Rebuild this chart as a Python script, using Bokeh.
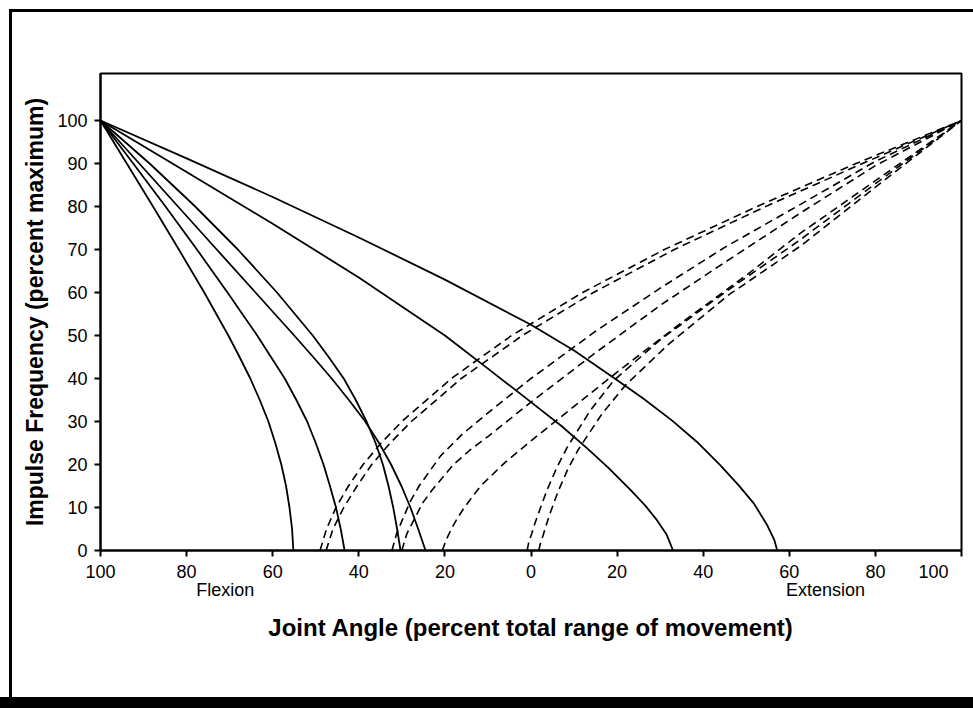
from bokeh.plotting import figure
from bokeh.models import Range1d, FixedTicker, LinearAxis, InlineStyleSheet
from bokeh.embed import file_html
from bokeh.resources import INLINE

# Joint angle: signed percent of range (-100 = full flexion, +100 = full extension)
# Solid curves (flexion receptors)
lev = [100, 90, 80, 70, 60, 50, 45, 40, 35, 30, 25, 20, 15, 10, 5, 0]
s1_x = [-100, -93.9, -87.8, -81.8, -75.9, -70.3, -67.7, -65.2, -63.0, -61.0, -59.4, -58.0, -56.9, -56.1, -55.5, -55.2]
s2_x = [-100, -92.4, -84.9, -77.6, -70.5, -63.6, -60.4, -57.2, -54.5, -52.0, -50.0, -48.2, -46.7, -45.3, -44.2, -43.3]
s3_x = [-100, -88.6, -78.0, -68.1, -59.0, -50.7, -47.0, -43.5, -40.7, -38.2, -36.1, -34.4, -33.1, -32.0, -31.1, -30.3]
s4_x = [-100, -91.0, -82.0, -73.0, -64.0, -55.0, -50.6, -46.3, -42.3, -38.5, -35.3, -32.5, -30.1, -28.0, -26.2, -24.5]
s5_x = [-100, -80, -60, -40, -20, -10, 0, 7, 13, 18, 23, 26.5, 29.3, 31.5, 33]
s5_y = [100, 88, 76, 63.5, 50, 42.3, 34.5, 29.0, 23.8, 19.2, 14.2, 10.5, 7, 3.7, 0]
s6_x = [-100, -80, -60, -40, -20, 0, 10, 19.2, 26, 32.8, 38.5, 44, 48.2, 51.8, 54.8, 56.5, 57.2]
s6_y = [100, 91.2, 82.2, 72.8, 63, 52.5, 46.5, 40.2, 35.4, 30.2, 25.3, 19.8, 15.2, 10.9, 6, 2.5, 0]

# Dashed curves (extension receptors)
a_y = [0, 5, 10, 15, 20, 25, 30, 40, 50, 60, 70, 80, 90, 100]
a1_x = [-49.0, -47.5, -45.3, -42.4, -39.0, -34.8, -30.0, -18.5, -4.5, 12.0, 31.0, 52.5, 75.5, 100]
a2_x = [-47.6, -46.0, -43.5, -40.4, -37.0, -32.7, -27.8, -16.2, -2.0, 14.5, 33.3, 54.5, 77.0, 100]
b1_x = [-32.3, -31.2, -29.5, -28, -26, -21, -16, -10, 0, 15, 30, 45, 62.6, 80, 100]
b1_y = [0, 4, 8, 11.5, 15, 22, 27, 32, 40, 51, 61, 70.5, 80.5, 90.5, 100]
b2_x = [-30, -28.8, -27, -25.2, -23, -18, -14, -10, 0, 15, 30, 45, 62.6, 80, 100]
b2_y = [0, 4, 7.5, 11, 14, 20, 23.5, 26.5, 34.5, 46, 57, 67, 78.5, 89.5, 100]
c_x = [-20.6, -19.7, -18.5, -17.1, -15.5, -11.7, -6, 0, 10, 20, 35, 50, 62.6, 80, 100]
c_y = [0, 2.5, 5, 7.5, 10, 15, 20.5, 25.5, 33.5, 41.5, 53, 64, 73.8, 86, 100]
d1_x = [-0.9, -0.5, 0.2, 0.8, 1.5, 3.7, 6, 8.4, 13.8, 19.2, 30, 45, 62.6, 80, 100]
d1_y = [0, 2, 4, 6, 8, 14, 19.3, 24, 32.6, 39.5, 49, 60, 72.3, 85.3, 100]
d2_x = [1.8, 2.2, 2.8, 4.2, 6.2, 8.5, 11, 16.5, 22, 32, 46, 62.6, 80, 100]
d2_y = [0, 1.7, 3.5, 8, 13.5, 18.8, 23.5, 31.8, 38.5, 48, 59.5, 70.8, 84.5, 100]

x_ticks = [-100, -80, -60, -40, -20, 0, 20, 40, 60, 80, 100]
x_tick_labels = ["100", "80", "60", "40", "20", "0", "20", "40", "60", "80", "100"]
y_ticks = [0, 10, 20, 30, 40, 50, 60, 70, 80, 90, 100]
side_pos = [-71, 68.4]
side_labels = ["Flexion", "Extension"]

FONT = "Liberation Sans"

p = figure(width=973, height=708, output_backend="svg", toolbar_location=None,
           x_range=Range1d(-100, 100), y_range=Range1d(0, 110.93),
           min_border_left=100, min_border_right=12, min_border_top=73, min_border_bottom=158)
p.background_fill_color = "white"
p.border_fill_color = "white"
p.grid.visible = False
p.outline_line_color = "black"
p.outline_line_width = 2

solid = dict(line_color="black", line_width=1.8)
for xs, ys in [(s1_x, lev), (s2_x, lev), (s3_x, lev), (s4_x, lev), (s5_x, s5_y), (s6_x, s6_y)]:
    p.line(xs, ys, **solid)

dashed = dict(line_color="black", line_width=1.6, line_dash="8 5")
for xs, ys in [(a1_x, a_y), (a2_x, a_y), (b1_x, b1_y), (b2_x, b2_y), (c_x, c_y), (d1_x, d1_y), (d2_x, d2_y)]:
    p.line(xs, ys, **dashed)

# the last label sits against the right edge of the panel: keep it inside
shown_labels = list(x_tick_labels)
shown_labels[-1] = shown_labels[-1] + "\u00a0" * 5

xa = p.xaxis[0]
xa.ticker = FixedTicker(ticks=x_ticks)
xa.major_label_overrides = {float(t): l for t, l in zip(x_ticks, shown_labels)}
ya = p.yaxis[0]
ya.ticker = FixedTicker(ticks=y_ticks)
for ax in (xa, ya):
    ax.axis_line_width = 2
    ax.axis_line_color = "black"
    ax.major_tick_line_width = 2
    ax.major_tick_out = 6
    ax.major_tick_in = 0
    ax.minor_tick_out = 0
    ax.minor_tick_in = 0
    ax.major_label_text_font = FONT
    ax.major_label_text_font_size = "18px"
    ax.major_label_text_color = "black"
    ax.axis_label_text_font = FONT
    ax.axis_label_text_font_style = "bold"
    ax.axis_label_text_color = "black"
xa.major_label_standoff = 5
ya.major_label_standoff = 7
ya.axis_label = "Impulse Frequency (percent maximum)"
ya.axis_label_text_font_size = "23px"
ya.axis_label_standoff = 6

# second row under the x axis: Flexion / Extension and the axis title
ax2 = LinearAxis(ticker=FixedTicker(ticks=side_pos),
                 major_label_overrides={float(t): l for t, l in zip(side_pos, side_labels)})
ax2.axis_line_color = None
ax2.major_tick_line_color = None
ax2.minor_tick_line_color = None
ax2.major_tick_out = 0
ax2.major_tick_in = 0
ax2.major_label_standoff = -5
ax2.major_label_text_font = FONT
ax2.major_label_text_font_size = "18px"
ax2.major_label_text_color = "black"
ax2.axis_label = "Joint Angle (percent total range of movement)"
ax2.axis_label_standoff = 11
ax2.axis_label_text_font = FONT
ax2.axis_label_text_font_style = "bold"
ax2.axis_label_text_font_size = "24px"
ax2.axis_label_text_color = "black"
p.add_layout(ax2, "below")

# panel border (left and top) and the dark band at the foot of the panel
p.stylesheets = [InlineStyleSheet(css="""
:host::before { content: ""; position: fixed; left: 9px; top: 9px; width: 3000px; height: 3000px;
  border-left: 3px solid #000; border-top: 3px solid #000; pointer-events: none; z-index: 10; }
:host::after { content: ""; position: fixed; left: 0px; top: 697px; width: 3000px; height: 40px;
  background: #000; pointer-events: none; z-index: 10; }
""")]

open("out.html", "w").write(file_html(p, INLINE))
